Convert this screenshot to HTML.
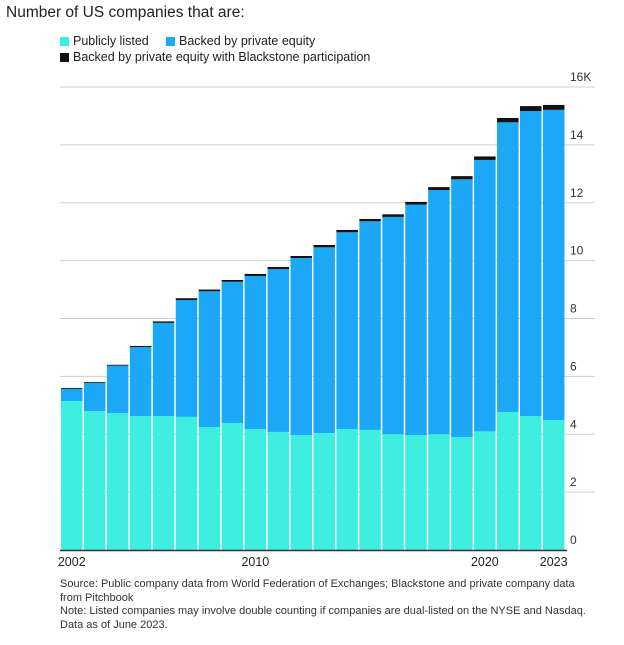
<!DOCTYPE html>
<html><head><meta charset="utf-8"><style>
body{margin:0;background:#fff;font-family:"Liberation Sans",Arial,sans-serif;}
#wrap{position:relative;width:624px;height:645px;overflow:hidden;}
.t{position:absolute;color:#222;white-space:nowrap;}
.sw{display:inline-block;width:9px;height:9px;margin-right:4px;vertical-align:-1px;}
</style></head><body>
<div id="wrap">
<div class="t" style="left:6px;top:4px;font-size:15.5px;">Number of US companies that are:</div>
<div class="t" style="left:60px;top:34px;font-size:12.5px;"><span class="sw" style="background:#3eeee0"></span>Publicly listed</div>
<div class="t" style="left:166px;top:34px;font-size:12.5px;"><span class="sw" style="background:#1aa8f7"></span>Backed by private equity</div>
<div class="t" style="left:60px;top:50px;font-size:12.5px;"><span class="sw" style="background:#111"></span>Backed by private equity with Blackstone participation</div>
<svg id="chart" width="624" height="580" style="position:absolute;left:0;top:0"></svg>
<div class="t" style="left:60px;top:578px;font-size:11px;line-height:13.5px;white-space:normal;width:532px;color:#333;">Source: Public company data from World Federation of Exchanges; Blackstone and private company data from Pitchbook<br>Note: Listed companies may involve double counting if companies are dual-listed on the NYSE and Nasdaq. Data as of June 2023.</div>
</div>
<script>
const years=[2002,2003,2004,2005,2006,2007,2008,2009,2010,2011,2012,2013,2014,2015,2016,2017,2018,2019,2020,2021,2022,2023];
const totals=[5.6,5.8,6.4,7.05,7.9,8.7,9.0,9.33,9.54,9.78,10.16,10.54,11.06,11.44,11.6,12.03,12.54,12.92,13.6,14.93,15.34,15.38];
const listed=[5.15,4.8,4.73,4.63,4.63,4.6,4.25,4.39,4.18,4.08,3.97,4.04,4.18,4.15,4.0,3.97,4.0,3.9,4.1,4.77,4.63,4.49];
const blackstone=[0.01,0.02,0.03,0.04,0.05,0.06,0.06,0.06,0.07,0.07,0.07,0.08,0.08,0.08,0.09,0.09,0.1,0.11,0.12,0.15,0.17,0.17];
const yTicks=[0,2,4,6,8,10,12,14,16];
const yTickLabels=["0","2","4","6","8","10","12","14","16K"];
const xLabels={2002:"2002",2010:"2010",2020:"2020",2023:"2023"};
const svg=document.getElementById('chart');const NS="http://www.w3.org/2000/svg";
const y0=550,yTop=87,x0=61,pitch=22.95,bw=21.5;
const y=v=>y0-(v/16)*(y0-yTop);
const x=i=>x0+i*pitch;
function mk(t,a){const e=document.createElementNS(NS,t);for(const k in a)e.setAttribute(k,a[k]);svg.appendChild(e);return e;}
yTicks.forEach((v,i)=>{
 if(v>0){const l=mk('line',{x1:60,x2:595,y1:y(v),y2:y(v),stroke:'#cfcfcf','stroke-width':1});
 
 }
 const t=mk('text',{x:570,y:y(v)-6,'font-size':12,fill:'#333','font-family':'Liberation Sans, sans-serif'});
 t.textContent=yTickLabels[i];
 
 
});
years.forEach((yr,i)=>{
 const pe=totals[i]-listed[i]-blackstone[i];
 const a=mk('rect',{x:x(i),y:y(listed[i]),width:bw,height:y0-y(listed[i]),fill:'#3eeee0'});
 
 
 const b=mk('rect',{x:x(i),y:y(listed[i]+pe),width:bw,height:y(listed[i])-y(listed[i]+pe),fill:'#1aa8f7'});
 
 
 const c=mk('rect',{x:x(i),y:y(totals[i]),width:bw,height:Math.max(0.8,y(listed[i]+pe)-y(totals[i])),fill:'#111'});
 
 
 if(xLabels[yr]){const t=mk('text',{x:x(i)+bw/2,y:566,'font-size':12.5,fill:'#222','text-anchor':'middle','font-family':'Liberation Sans, sans-serif'});
 t.textContent=xLabels[yr];
 
 }
});
const base=mk('line',{x1:60,x2:567,y1:y0+0.5,y2:y0+0.5,stroke:'#333','stroke-width':1.5});


</script>
</body></html>
